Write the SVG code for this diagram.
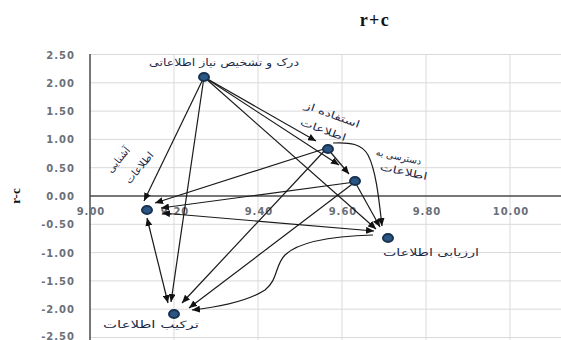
<svg xmlns="http://www.w3.org/2000/svg" width="561" height="340" viewBox="0 0 561 340">
<defs>
<style>
.grid{stroke:#d9d9d9;stroke-width:1;fill:none}
.axis{stroke:#4a4a4a;stroke-width:1.5;fill:none}
.tick{font-family:"DejaVu Sans",Verdana,sans-serif;font-size:10px;font-weight:bold;fill:#6a6f78;letter-spacing:1px}
.edge{stroke:#1a1a1a;stroke-width:1.2;fill:none;marker-end:url(#ah)}
.both{marker-start:url(#ah)}
.dot{fill:#2a5585;stroke:#17314f;stroke-width:2}
.lbl{font-family:"DejaVu Sans","Noto Sans",sans-serif;font-size:10px;fill:#1c2a48;text-anchor:middle}
</style>
<marker id="ah" viewBox="0 0 8 7" refX="8" refY="3.5" markerWidth="8" markerHeight="7" markerUnits="userSpaceOnUse" orient="auto-start-reverse">
<path d="M0,0 L8,3.5 L0,7 z" fill="#111"/>
</marker>
</defs>
<rect width="561" height="340" fill="#fff"/>
<g id="grid">
<path class="grid" d="M90,54.5H561M90,82.8H561M90,111.1H561M90,139.4H561M90,167.7H561M90,224.3H561M90,252.6H561M90,280.9H561M90,309.2H561M90,337.5H561"/>
<path class="grid" d="M174,54V340M258,54V340M342,54V340M426,54V340M510,54V340"/>
<path class="axis" d="M90,54V340"/>
<path class="axis" d="M90,196H561"/>
</g>
<g id="axis-labels">
<g class="tick" text-anchor="end">
<text x="75" y="58.5">2.50</text>
<text x="75" y="86.8">2.00</text>
<text x="75" y="115.1">1.50</text>
<text x="75" y="143.4">1.00</text>
<text x="75" y="171.7">0.50</text>
<text x="75" y="200">0.00</text>
<text x="75" y="228.3">-0.50</text>
<text x="75" y="256.6">-1.00</text>
<text x="75" y="284.9">-1.50</text>
<text x="75" y="313.2">-2.00</text>
<text x="75" y="339.5">-2.50</text>
</g>
<g class="tick" text-anchor="middle">
<text x="91" y="215">9.00</text>
<text x="175" y="215">9.20</text>
<text x="259" y="215">9.40</text>
<text x="343" y="215">9.60</text>
<text x="427" y="215">9.80</text>
<text x="511" y="215">10.00</text>
</g>
<text x="375" y="26" font-family="Liberation Serif,serif" font-size="18" font-weight="bold" text-anchor="middle" letter-spacing="1.5" fill="#111">r+c</text>
<text transform="translate(20,196) rotate(-90)" font-family="Liberation Serif,serif" font-size="13" font-weight="bold" text-anchor="middle" fill="#111">r-c</text>
</g>
<g id="connectors">
<path class="edge" d="M204,77L144,201"/>
<path class="edge" d="M204,77L171,302"/>
<path class="edge" d="M204,77L316,141"/>
<path class="edge" d="M204,77L339,165"/>
<path class="edge" d="M204,77L376,229"/>
<path class="edge" d="M327,148L349,174"/>
<path class="edge" d="M327,148L155,203"/>
<path class="edge" d="M327,148L182,303"/>
<path class="edge" d="M333,143C350,142 362,144 368,155C376,170 379,200 382,226"/>
<path class="edge" d="M355,182L380,227"/>
<path class="edge" d="M355,182L161,208"/>
<path class="edge" d="M355,182L189,308"/>
<path class="edge both" d="M162,213L374,231"/>
<path class="edge" d="M373,235C340,236 300,240 285,255C275,265 278,280 265,290C245,303 210,308 192,310"/>
<path class="edge both" d="M147,218L168,303"/>
</g>
<g id="n-need">
<ellipse class="dot" cx="204" cy="77" rx="5" ry="4"/>
<text class="lbl" x="224" y="66" textLength="150" lengthAdjust="spacingAndGlyphs">درک و تشخیص نیاز اطلاعاتی</text>
</g>
<g id="n-use">
<ellipse class="dot" cx="328" cy="149" rx="5" ry="4"/>
<text class="lbl" transform="translate(331,118) rotate(20)" textLength="58" lengthAdjust="spacingAndGlyphs">استفاده از</text>
<text class="lbl" transform="translate(322,133) rotate(20)" textLength="48" lengthAdjust="spacingAndGlyphs">اطلاعات</text>
</g>
<g id="n-access">
<ellipse class="dot" cx="355" cy="181" rx="5" ry="4"/>
<text class="lbl" transform="translate(398,160) rotate(12)" textLength="46" lengthAdjust="spacingAndGlyphs">دسترسی به</text>
<text class="lbl" transform="translate(403,175) rotate(12)" textLength="48" lengthAdjust="spacingAndGlyphs">اطلاعات</text>
</g>
<g id="n-eval">
<ellipse class="dot" cx="388" cy="238" rx="5" ry="4"/>
<text class="lbl" x="431" y="256" textLength="96" lengthAdjust="spacingAndGlyphs">ارزیابی اطلاعات</text>
</g>
<g id="n-familiar">
<ellipse class="dot" cx="147" cy="210" rx="5" ry="4"/>
<text class="lbl" transform="translate(121,162) rotate(-50)" textLength="30" lengthAdjust="spacingAndGlyphs">آشنایی</text>
<text class="lbl" transform="translate(142,170) rotate(-50)" textLength="38" lengthAdjust="spacingAndGlyphs">اطلاعات</text>
</g>
<g id="n-combine">
<ellipse class="dot" cx="174" cy="314" rx="5" ry="4"/>
<text class="lbl" x="151" y="328" textLength="96" lengthAdjust="spacingAndGlyphs">ترکیب اطلاعات</text>
</g>
</svg>
